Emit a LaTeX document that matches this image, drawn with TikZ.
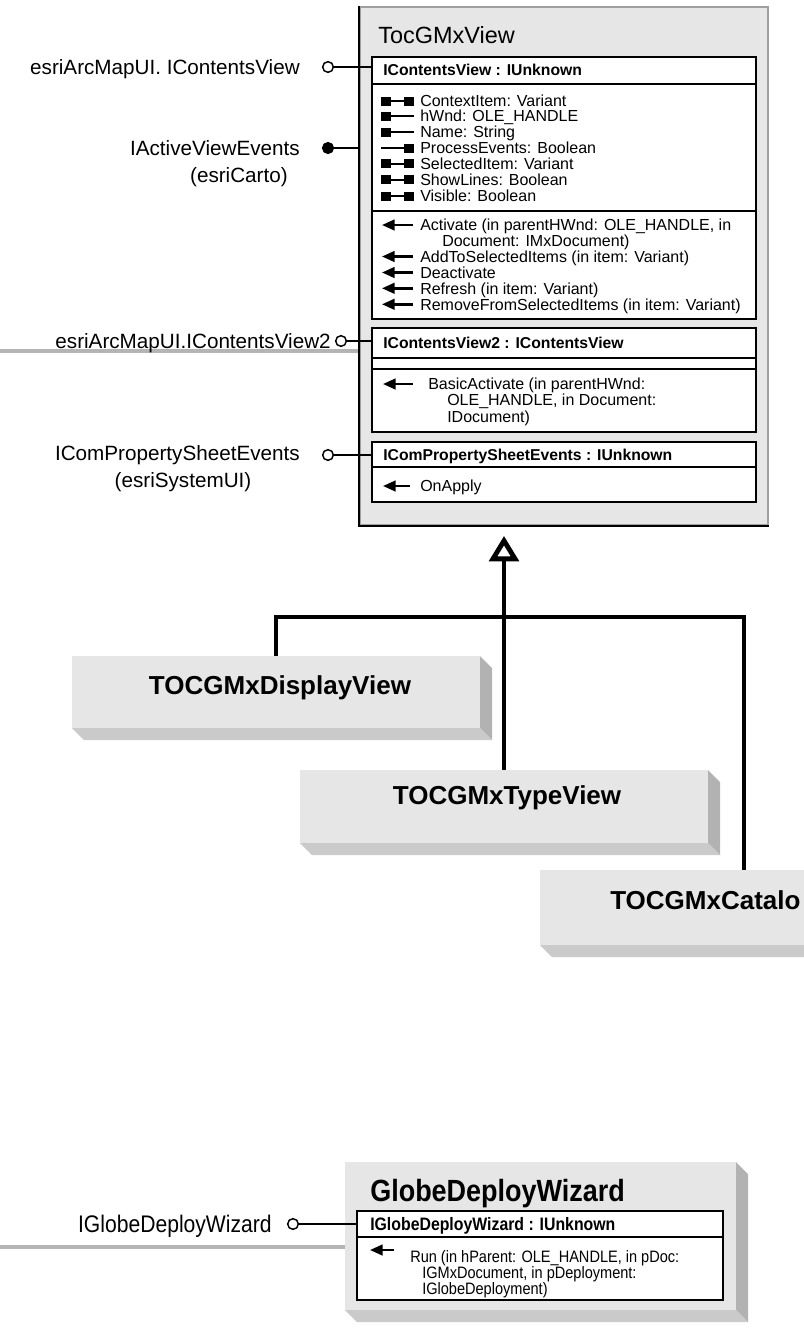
\documentclass[tikz,border=0pt]{standalone}
\usepackage{fontspec}
\setmainfont{Liberation Sans}
\newfontfamily\narrowfont[FakeStretch=0.88]{Liberation Sans}
\usetikzlibrary{arrows.meta,fit}
\definecolor{boxfill}{HTML}{E6E6E6}
\definecolor{sideR}{HTML}{B2B2B2}
\definecolor{sideB}{HTML}{CACACA}
\definecolor{rimgray}{HTML}{A0A0A0}
\definecolor{busgray}{HTML}{B4B4B4}
\newcommand\rwicon[1]{\fill (381,#1-4.5) rectangle (391,#1+4.5); \draw[line width=1.5pt] (391,#1) -- (404,#1); \fill (404,#1-4.5) rectangle (414,#1+4.5);}
\newcommand\roicon[1]{\fill (381,#1-4.5) rectangle (391,#1+4.5); \draw[line width=1.5pt] (391,#1) -- (414,#1);}
\newcommand\woicon[1]{\draw[line width=1.5pt] (381,#1) -- (404,#1); \fill (404,#1-4.5) rectangle (414,#1+4.5);}
\newcommand\mthicon[3]{\draw[line width=1.8pt,-{Triangle[length=9.5pt,width=8pt]}] (#3,#1) -- (#2,#1);}
\newcommand\threedbox[5]{%
  \fill[sideR] (#4,#3) -- (#4+12,#3+12) -- (#4+12,#5+12) -- (#4,#5) -- cycle;
  \fill[sideB] (#2,#5) -- (#4,#5) -- (#4+12,#5+12) -- (#2+12,#5+12) -- cycle;
  \node[fit={(#2,#3)(#4,#5)}, inner sep=0pt, fill=boxfill] (#1) {};}
\begin{document}
\begin{tikzpicture}[x=0.75pt,y=-0.75pt,
  txt/.style={inner sep=0pt, text depth=0pt},
  prop/.style={txt, font=\fontsize{12pt}{12pt}\selectfont, text height=8.6pt, anchor=west},
  hdr/.style={txt, font=\fontsize{11.8pt}{11.8pt}\selectfont\bfseries, text height=8.4pt, anchor=west},
  lbl/.style={txt, font=\fontsize{15.5pt}{15.5pt}\selectfont, text height=11.1pt, anchor=east},
  ttl/.style={txt, font=\fontsize{17.6pt}{17.6pt}\selectfont, text height=12.6pt, anchor=west},
  sub/.style={txt, font=\fontsize{19.5pt}{19.5pt}\selectfont\bfseries, text height=14pt},
  nttl/.style={txt, font=\fontsize{23pt}{23pt}\narrowfont\bfseries, text height=16.5pt, anchor=west},
  nhdr/.style={txt, font=\fontsize{13.5pt}{13.5pt}\narrowfont\bfseries, text height=9.7pt, anchor=west},
  nprop/.style={txt, font=\fontsize{12.4pt}{12.4pt}\narrowfont, text height=8.9pt, anchor=west},
  nlbl/.style={txt, font=\fontsize{18pt}{18pt}\narrowfont, text height=12.9pt, anchor=east},
  ibox/.style={draw=black, line width=1.1pt, fill=white, inner sep=0pt},
  sepline/.style={line width=1pt},
  conn/.style={line width=1.1pt},
  lolly/.style={circle, draw, line width=1.1pt, minimum size=8pt, inner sep=0pt, fill=white},
  lollyf/.style={lolly, fill=black},
  bus/.style={line width=3.6pt, busgray},
  gen/.style={line width=3.6pt}]
\useasboundingbox (0,0) rectangle (804,1340);
\clip (0,0) rectangle (804,1340);
\fill[white] (0,0) rectangle (804,1340);

% ---------- TocGMxView ----------
\coordinate (b1) at (0,351);
\draw[bus] (b1) -- (360,351);
\node[fit={(360,7)(768,525)}, inner sep=0pt, fill=boxfill, draw=rimgray, line width=1.4pt] (toc) {};
\draw[line width=0.9pt] (toc.north west) -- (toc.south west) -- (toc.south east);
\node[ttl] (tocname) at (378,35) {TocGMxView};

% IContentsView
\node[ibox, fit={(372,57)(756,319)}] (i1) {};
\draw[sepline] (372,84) -- (756,84);
\draw[sepline] (372,211) -- (756,211);
\node[hdr] (h1) at (383,70) {IContentsView : IUnknown};
\rwicon{101}   \node[prop] (p1) at (420,101) {ContextItem: Variant};
\roicon{116}   \node[prop] (p2) at (420,116) {hWnd: OLE\_HANDLE};
\roicon{132}   \node[prop] (p3) at (420,132) {Name: String};
\woicon{148}   \node[prop] (p4) at (420,148) {ProcessEvents: Boolean};
\rwicon{163.5} \node[prop] (p5) at (420,163.5) {SelectedItem: Variant};
\rwicon{179.5} \node[prop] (p6) at (420,179.5) {ShowLines: Boolean};
\rwicon{196}   \node[prop] (p7) at (420,196) {Visible: Boolean};
\mthicon{225}{382}{413}   \node[prop] (m1) at (420,225) {Activate (in parentHWnd: OLE\_HANDLE, in};
\node[prop] (m1b) at (442,241) {Document: IMxDocument)};
\mthicon{256.5}{382}{413} \node[prop] (m2) at (420,256.5) {AddToSelectedItems (in item: Variant)};
\mthicon{272.5}{382}{413} \node[prop] (m3) at (420,272.5) {Deactivate};
\mthicon{288.3}{382}{413} \node[prop] (m4) at (420,288.3) {Refresh (in item: Variant)};
\mthicon{304.3}{382}{413} \node[prop] (m5) at (420,304.3) {RemoveFromSelectedItems (in item: Variant)};

% IContentsView2
\node[ibox, fit={(372,328)(756,432)}] (i2) {};
\draw[sepline] (372,358) -- (756,358);
\draw[sepline] (372,369) -- (756,369);
\node[hdr] (h2) at (383,343) {IContentsView2 : IContentsView};
\mthicon{384}{383}{413} \node[prop] (m6) at (428,384) {BasicActivate (in parentHWnd:};
\node[prop] (m6b) at (447,400) {OLE\_HANDLE, in Document:};
\node[prop] (m6c) at (447,416.5) {IDocument)};

% IComPropertySheetEvents
\node[ibox, fit={(372,442)(756,502)}] (i3) {};
\draw[sepline] (372,467) -- (756,467);
\node[hdr] (h3) at (383,455) {IComPropertySheetEvents : IUnknown};
\mthicon{486}{383}{410} \node[prop] (m7) at (420,486) {OnApply};

% left interfaces
\node[lbl] (l1) at (300,67) {esriArcMapUI. IContentsView};
\node[lolly] (c1) at (328,67) {};
\draw[conn] (c1) -- (c1 -| i1.west);

\node[lbl] (l2) at (300,148) {IActiveViewEvents};
\node[lbl] (l2b) at (288,175) {(esriCarto)};
\node[lollyf] (c2) at (328,148) {};
\draw[conn] (c2) -- (c2 -| toc.west);

\node[lbl] (l3) at (331,341) {esriArcMapUI.IContentsView2};
\node[lolly] (c3) at (341,341) {};
\draw[conn] (c3) -- (c3 -| i2.west);

\node[lbl] (l4) at (300,453) {IComPropertySheetEvents};
\node[lbl, anchor=center] (l4b) at (183,480) {(esriSystemUI)};
\node[lolly] (c4) at (328,455) {};
\draw[conn] (c4) -- (c4 -| i3.west);

% ---------- subclasses ----------
\threedbox{disp}{72}{656}{480}{728}
\node[sub] (dispname) at (280,685) {TOCGMxDisplayView};
\threedbox{typ}{300}{770}{708}{843}
\node[sub] (typname) at (507,795) {TOCGMxTypeView};
\threedbox{cat}{540}{870}{948}{945}
\node[sub, anchor=west] (catname) at (610,900) {TOCGMxCatalo};

\coordinate (jn) at (504,617);
\draw[gen] (disp.north) |- (jn) -| (cat.north);
\draw[gen, -{Triangle[open,length=19pt,width=22pt]}, shorten >=7.5pt] (typ.north) -- (typ.north |- toc.south);

% ---------- GlobeDeployWizard ----------
\coordinate (b2) at (0,1247);
\threedbox{gdw}{345}{1162}{736}{1310}
\draw[bus] (b2) -- (b2 -| gdw.west);
\node[nttl] (gdwname) at (370,1190) {GlobeDeployWizard};
\node[ibox, fit={(357,1211)(723,1300)}] (i4) {};
\draw[sepline] (357,1237) -- (723,1237);
\node[nhdr] (h4) at (370,1224) {IGlobeDeployWizard : IUnknown};
\mthicon{1250}{370}{394}
\node[nprop] (r1) at (410,1257) {Run (in hParent: OLE\_HANDLE, in pDoc:};
\node[nprop] (r2) at (422,1273) {IGMxDocument, in pDeployment:};
\node[nprop] (r3) at (422,1289) {IGlobeDeployment)};
\node[nlbl] (l5) at (272,1224) {IGlobeDeployWizard};
\node[lolly] (c5) at (293,1224) {};
\draw[conn] (c5) -- (c5 -| i4.west);
\end{tikzpicture}
\end{document}
